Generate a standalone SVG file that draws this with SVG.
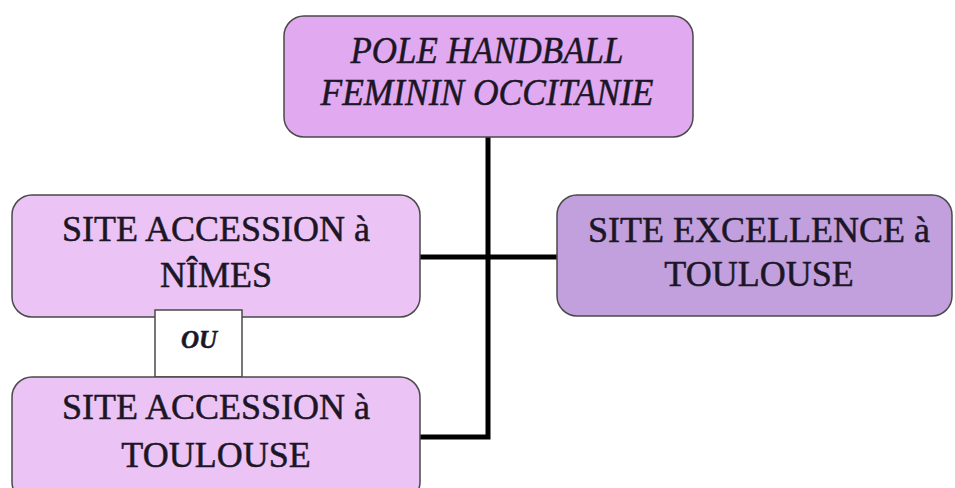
<svg xmlns="http://www.w3.org/2000/svg" width="955" height="488" viewBox="0 0 955 488">
<style>
.box{stroke:#4a4a4a;stroke-width:1.5}
.t{font-family:"Liberation Serif",serif;fill:#1c1626;stroke:#1c1626;stroke-width:0.5;text-anchor:middle}
.c{stroke:#000;stroke-width:5;fill:none}
</style>
<rect width="955" height="488" fill="#fff"/>
<g id="connectors">
<path class="c" d="M488 137V437H420"/>
<path class="c" d="M420 257H557"/>
</g>
<g id="pole">
<rect class="box" x="284" y="16" width="409" height="121" rx="20" fill="#e0a9f0"/>
<text class="t" font-style="italic" font-size="38" x="487" y="63" textLength="273" lengthAdjust="spacingAndGlyphs">POLE HANDBALL</text>
<text class="t" font-style="italic" font-size="38" x="487" y="105" textLength="333" lengthAdjust="spacingAndGlyphs">FEMININ OCCITANIE</text>
</g>
<g id="nimes">
<rect class="box" x="12" y="195" width="408" height="122" rx="20" fill="#ebc3f5"/>
<text class="t" font-size="36" x="216" y="241">SITE ACCESSION à</text>
<text class="t" font-size="36" x="216" y="287">NÎMES</text>
</g>
<g id="ou">
<rect x="155" y="310" width="87" height="67" fill="#fff" stroke="#4a4a4a" stroke-width="1.5"/>
<text class="t" font-size="25" font-weight="bold" font-style="italic" x="199" y="348">OU</text>
</g>
<g id="toulouse-acc">
<rect class="box" x="12" y="377" width="408" height="125" rx="20" fill="#ebc3f5"/>
<text class="t" font-size="36" x="216" y="419">SITE ACCESSION à</text>
<text class="t" font-size="36" x="216" y="467">TOULOUSE</text>
</g>
<g id="excellence">
<rect class="box" x="557" y="195" width="395" height="121" rx="20" fill="#c2a0de"/>
<text class="t" font-size="36" x="759" y="242">SITE EXCELLENCE à</text>
<text class="t" font-size="36" x="759" y="286">TOULOUSE</text>
</g>
</svg>
